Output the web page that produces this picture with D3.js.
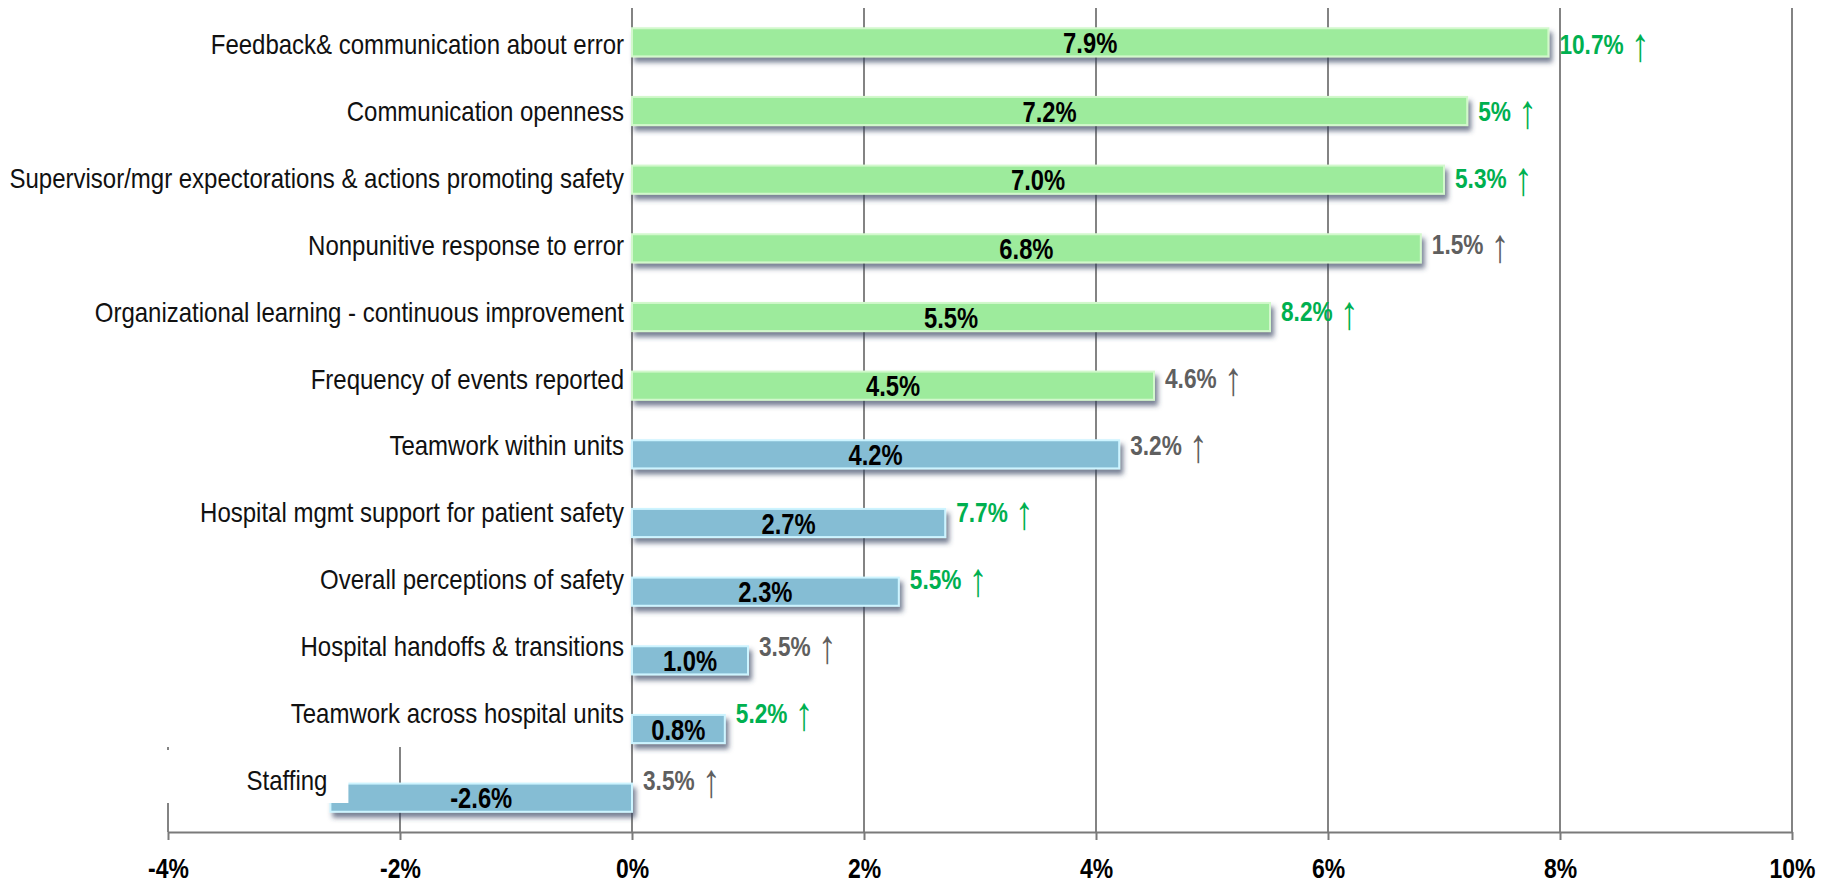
<!DOCTYPE html>
<html>
<head>
<meta charset="utf-8">
<script src="https://cdn.jsdelivr.net/npm/d3@7"></script>
<style>
  html, body { margin: 0; padding: 0; background: #fff; }
  svg { display: block; }
  text { font-family: 'Liberation Sans Narrow', 'Arial Narrow', 'Liberation Sans', Arial, sans-serif; }
</style>
</head>
<body>
<svg id="chart" width="1837" height="883"></svg>
<script>
// Patient-safety culture composites: change in positive score
const categories = [
  "Feedback& communication about error",
  "Communication openness",
  "Supervisor/mgr expectorations & actions promoting safety",
  "Nonpunitive response to error",
  "Organizational learning - continuous improvement",
  "Frequency of events reported",
  "Teamwork within units",
  "Hospital mgmt support for patient safety",
  "Overall perceptions of safety",
  "Hospital handoffs & transitions",
  "Teamwork across hospital units",
  "Staffing"
];
const changeValues = [7.9, 7.2, 7.0, 6.8, 5.5, 4.5, 4.2, 2.7, 2.3, 1.0, 0.8, -2.6];
const benchmarkValues = [10.7, 5, 5.3, 1.5, 8.2, 4.6, 3.2, 7.7, 5.5, 3.5, 5.2, 3.5];
const benchmarkSignificant = [true, true, true, false, true, false, false, true, true, false, true, false];
const compositeGroup = ["unit", "unit", "unit", "unit", "unit", "unit",
                        "hospital", "hospital", "hospital", "hospital", "hospital", "hospital"];
const tickValues = [-4, -2, 0, 2, 4, 6, 8, 10];

const svg = d3.select("#chart");

const x = d3.scaleLinear().domain([-4, 10]).range([168, 1792]);
const y = d3.scaleBand().domain(categories).range([8, 832])
  .paddingInner(0.59).paddingOuter(0.295);
// annotation rows sit on a slightly tighter grid than the bars
const yLabel = d3.scalePoint().domain(categories).range([44, 780]);

const fills = { unit: "#9deb9c", hospital: "#85bdd4" };
const edges = { unit: "#d2f8cc", hospital: "#cdf4ff" };

// condensed look: squeeze each text horizontally about its own anchor x
function narrow(sel, k = 0.82) {
  sel.each(function () {
    const ax = +(this.getAttribute("x") || 0);
    d3.select(this).attr("transform", `translate(${ax},0) scale(${k},1) translate(${-ax},0)`);
  });
}

const defs = svg.append("defs");
const shadow = defs.append("filter").attr("id", "barShadow")
  .attr("x", "-5%").attr("y", "-40%").attr("width", "115%").attr("height", "200%");
shadow.append("feDropShadow")
  .attr("dx", 3).attr("dy", 5).attr("stdDeviation", 2.5)
  .attr("flood-color", "#33415c").attr("flood-opacity", 0.65);

const axisY = 832;
const gridTopPos = 8;
const gridTopNeg = 747;

// vertical gridlines
svg.append("g").selectAll("line")
  .data(tickValues)
  .join("line")
  .attr("x1", d => x(d)).attr("x2", d => x(d))
  .attr("y1", d => d < 0 ? gridTopNeg : gridTopPos)
  .attr("y2", axisY)
  .attr("stroke", "#5a5a5a").attr("stroke-width", 1.5);

const rows = categories.map((c, i) => ({
  cat: c, v: changeValues[i], b: benchmarkValues[i],
  sig: benchmarkSignificant[i], g: compositeGroup[i]
}));

// bars
svg.append("g").selectAll("rect")
  .data(rows)
  .join("rect")
  .attr("x", d => x(Math.min(0, d.v)))
  .attr("y", d => y(d.cat))
  .attr("width", d => Math.abs(x(d.v) - x(0)))
  .attr("height", y.bandwidth())
  .attr("fill", d => fills[d.g])
  .attr("stroke", d => edges[d.g])
  .attr("stroke-width", 2)
  .attr("filter", "url(#barShadow)");

// category labels
const negRow = rows.filter(d => d.v < 0);
const catG = svg.append("g");
catG.selectAll("rect")
  .data(negRow)
  .join("rect")
  .attr("x", 150)
  .attr("y", gridTopNeg + 3)
  .attr("width", d => x(d.v) + 18 - 150)
  .attr("height", d => yLabel(d.cat) + 23 - (gridTopNeg + 3))
  .attr("fill", "#fff");

catG.selectAll("text")
  .data(rows)
  .join("text")
  .attr("x", d => d.v < 0 ? x(d.v) - 3 : x(0) - 8)
  .attr("y", d => yLabel(d.cat))
  .attr("dy", "0.35em")
  .attr("text-anchor", "end")
  .attr("font-size", 28.5)
  .attr("fill", "#111")
  .text(d => d.cat)
  .call(narrow, 0.842);

// value labels inside bars
svg.append("g").selectAll("text")
  .data(rows)
  .join("text")
  .attr("x", d => (x(d.v) + x(0)) / 2)
  .attr("y", d => y(d.cat) + y.bandwidth() / 2)
  .attr("dy", "0.37em")
  .attr("text-anchor", "middle")
  .attr("font-size", 29)
  .attr("font-weight", "bold")
  .attr("fill", "#000")
  .text(d => d.v.toFixed(1) + "%")
  .call(narrow);

// benchmark change labels to the right of each bar, each followed by an up arrow
const benchColor = d => d.sig ? "#00b050" : "#5f5f5f";
const benchG = svg.append("g");
const bench = benchG.selectAll("text.bench")
  .data(rows)
  .join("text")
  .attr("class", "bench")
  .attr("x", d => x(Math.max(0, d.v)) + 11)
  .attr("y", d => yLabel(d.cat))
  .attr("dy", "0.36em")
  .attr("font-size", 27)
  .attr("font-weight", "bold")
  .attr("fill", benchColor)
  .text(d => d.b + "%")
  .call(narrow, 0.84);

bench.each(function (d) {
  d.arrowX = +this.getAttribute("x") + this.getComputedTextLength() * 0.84 + 7;
});

benchG.selectAll("text.arrow")
  .data(rows)
  .join("text")
  .attr("class", "arrow")
  .attr("x", d => d.arrowX)
  .attr("y", d => yLabel(d.cat))
  .attr("dy", "0.36em")
  .attr("font-size", 47)
  .attr("fill", benchColor)
  .text("\u2191")
  .call(narrow, 0.8);

// x axis
const axis = d3.axisBottom(x)
  .tickValues(tickValues)
  .tickSize(8)
  .tickSizeOuter(0)
  .tickFormat(d => d + "%");
const axG = svg.append("g").attr("transform", `translate(0,${axisY})`).call(axis);
axG.select(".domain").attr("stroke", "#7a7a7a").attr("stroke-width", 2);
axG.selectAll(".tick line").attr("stroke", "#7a7a7a").attr("stroke-width", 2);
axG.selectAll(".tick text")
  .attr("y", 26)
  .attr("font-size", 28)
  .attr("font-weight", "bold")
  .attr("fill", "#000")
  .attr("font-family", "'Liberation Sans Narrow', 'Arial Narrow', 'Liberation Sans', Arial, sans-serif")
  .call(narrow);
</script>
</body>
</html>
